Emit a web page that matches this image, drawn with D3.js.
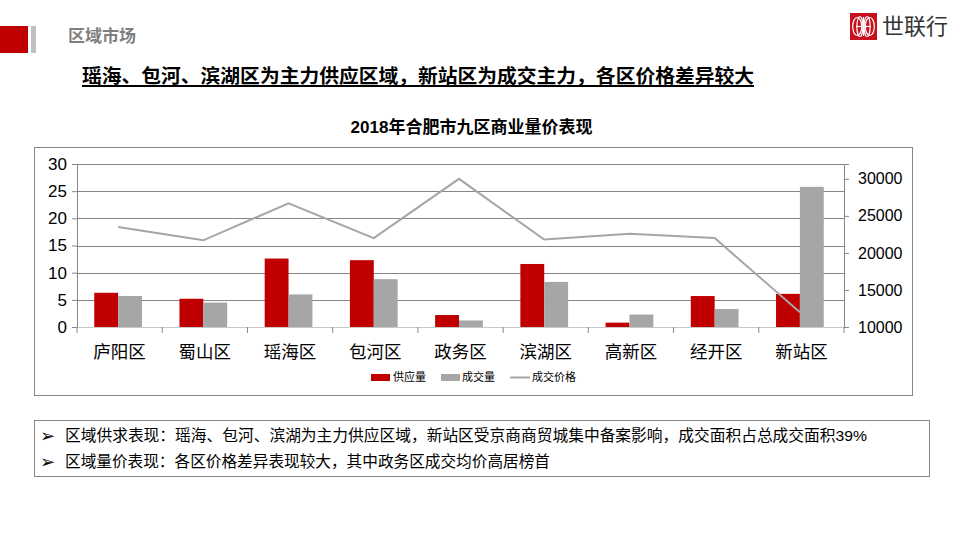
<!DOCTYPE html>
<html><head><meta charset="utf-8">
<script src="https://cdn.jsdelivr.net/npm/d3@7/dist/d3.min.js"></script>
<style>body{margin:0;background:#fff;}svg{display:block;}</style>
</head><body>
<svg id="c" width="960" height="540"></svg>
<script>
const categories = ["庐阳区","蜀山区","瑶海区","包河区","政务区","滨湖区","高新区","经开区","新站区"];
const supply = [6.3, 5.2, 12.6, 12.3, 2.2, 11.6, 0.8, 5.7, 6.1];
const deal = [5.7, 4.5, 6.0, 8.8, 1.2, 8.3, 2.3, 3.3, 25.8];
const price = [23500, 21700, 26700, 22000, 30000, 21800, 22600, 22000, 12000];
const leftTicks = [0, 5, 10, 15, 20, 25, 30];
const rightTicks = [10000, 15000, 20000, 25000, 30000];
const seriesNames = ["供应量", "成交量", "成交价格"];

const FONT = "'Liberation Sans', Arial, 'Noto Sans CJK SC', sans-serif";
const svg = d3.select("#c").style("font-family", FONT);

// header
svg.append("rect").attr("x",0).attr("y",26).attr("width",28).attr("height",27).attr("fill","#c00000");
svg.append("rect").attr("x",31).attr("y",26).attr("width",5).attr("height",27).attr("fill","#c0c0c0");
svg.append("text").attr("x",68).attr("y",42).attr("font-size",17).attr("font-weight","bold")
  .attr("fill","#7f7f7f").text("区域市场");

// logo
const logo = svg.append("g");
logo.append("rect").attr("x",850).attr("y",13).attr("width",27).attr("height",27).attr("fill","#c8101e");
[[-7,9],[-4,10],[4,10],[7,9]].forEach(([dx,h])=>{
  logo.append("ellipse").attr("cx",863.5+dx*0.9).attr("cy",26.5).attr("rx",Math.abs(dx)*0.5+1).attr("ry",h)
    .attr("fill","none").attr("stroke","#fff").attr("stroke-width",1.2);
});
logo.append("line").attr("x1",856).attr("x2",871).attr("y1",26.5).attr("y2",26.5).attr("stroke","#fff").attr("stroke-width",1.2);
logo.append("line").attr("x1",863.5).attr("x2",863.5).attr("y1",17).attr("y2",36).attr("stroke","#fff").attr("stroke-width",1.2);
svg.append("text").attr("x",882).attr("y",34).attr("font-size",22).attr("fill","#333")
  .attr("textLength",66).text("世联行");

// headline
svg.append("text").attr("x",82).attr("y",83).attr("font-size",19).attr("font-weight","bold")
  .attr("fill","#000").attr("textLength",672).attr("lengthAdjust","spacingAndGlyphs")
  .text("瑶海、包河、滨湖区为主力供应区域，新站区为成交主力，各区价格差异较大");
svg.append("rect").attr("x",82).attr("y",85).attr("width",672).attr("height",2).attr("fill","#000");

// chart frame
svg.append("rect").attr("x",34.5).attr("y",147.5).attr("width",878).attr("height",248)
  .attr("fill","none").attr("stroke","#868686").attr("stroke-width",1);

svg.append("text").attr("x",471.5).attr("y",133).attr("text-anchor","middle").attr("font-size",17)
  .attr("font-weight","bold").text("2018年合肥市九区商业量价表现");

const L = 77, R = 844, T = 164, B = 327;
const x = d3.scaleBand().domain(categories).range([L, R]).paddingInner(0.44).paddingOuter(0.22);
const yL = d3.scaleLinear().domain([0, 30]).range([B, T]);
const yR = d3.scaleLinear().domain([10000, 32000]).range([B, T]);
const sub = d3.scaleBand().domain(["s","d"]).range([0, x.bandwidth()]);

// grid
svg.append("g").selectAll("line").data(leftTicks.filter(d=>d>0)).join("line")
  .attr("x1",L).attr("x2",R).attr("y1",d=>Math.round(yL(d))+0.5).attr("y2",d=>Math.round(yL(d))+0.5)
  .attr("stroke","#868686").attr("stroke-width",1);

// bars
const g = svg.append("g");
g.selectAll(".s").data(categories).join("rect")
  .attr("x",d=>x(d)-1.5).attr("width",sub.bandwidth())
  .attr("y",(d,i)=>yL(supply[i])).attr("height",(d,i)=>B-yL(supply[i])).attr("fill","#c00000");
g.selectAll(".d").data(categories).join("rect")
  .attr("x",d=>x(d)+sub("d")-1.5).attr("width",sub.bandwidth())
  .attr("y",(d,i)=>yL(deal[i])).attr("height",(d,i)=>B-yL(deal[i])).attr("fill","#a6a6a6");

// axes
const axL = svg.append("g").attr("transform",`translate(${L},0)`)
  .call(d3.axisLeft(yL).tickValues(leftTicks).tickSize(5).tickPadding(5));
axL.select(".domain").attr("stroke","#868686");
axL.selectAll(".tick line").attr("stroke","#868686");
axL.selectAll("text").attr("font-size",17).attr("font-family",FONT).attr("fill","#000");

const axR = svg.append("g").attr("transform",`translate(${R},0)`)
  .call(d3.axisRight(yR).tickValues(rightTicks).tickSize(5).tickPadding(9).tickFormat(d3.format("d")));
axR.select(".domain").attr("stroke","#868686");
axR.selectAll(".tick line").attr("stroke","#868686");
axR.selectAll("text").attr("font-size",16).attr("font-family",FONT).attr("fill","#000");

const axB = svg.append("g").attr("transform",`translate(0,${B})`)
  .call(d3.axisBottom(x).tickSize(0).tickPadding(19));
axB.select(".domain").attr("stroke","#c8c8c8");
axB.selectAll("text").attr("font-size",17.5).attr("font-family",FONT).attr("fill","#000");
const step = (R - L) / categories.length;
svg.append("g").selectAll("line").data(d3.range(categories.length + 1)).join("line")
  .attr("x1",i=>L+i*step).attr("x2",i=>L+i*step).attr("y1",B).attr("y2",B+6)
  .attr("stroke","#868686");

// line
const line = d3.line().x((d,i)=>x(categories[i])+x.bandwidth()/2-1.5).y(d=>yR(d));
svg.append("path").datum(price).attr("d",line).attr("fill","none")
  .attr("stroke","#a6a6a6").attr("stroke-width",2);

// legend
const lg = svg.append("g").attr("font-size",11);
lg.append("rect").attr("x",371).attr("y",374).attr("width",19).attr("height",7).attr("fill","#c00000");
lg.append("text").attr("x",393).attr("y",381).text(seriesNames[0]);
lg.append("rect").attr("x",441).attr("y",374).attr("width",19).attr("height",7).attr("fill","#a6a6a6");
lg.append("text").attr("x",462).attr("y",381).text(seriesNames[1]);
lg.append("line").attr("x1",510).attr("x2",530).attr("y1",377.5).attr("y2",377.5).attr("stroke","#a6a6a6").attr("stroke-width",2);
lg.append("text").attr("x",532).attr("y",381).text(seriesNames[2]);

// text box
svg.append("rect").attr("x",34.5).attr("y",420.5).attr("width",895).attr("height",56)
  .attr("fill","none").attr("stroke","#868686");
const notes = [
  {t:"区域供求表现：瑶海、包河、滨湖为主力供应区域，新站区受京商商贸城集中备案影响，成交面积占总成交面积39%", w:802, y:441},
  {t:"区域量价表现：各区价格差异表现较大，其中政务区成交均价高居榜首", w:485, y:467}
];
notes.forEach(n=>{
  svg.append("text").attr("x",40).attr("y",n.y+1).attr("font-size",18).attr("font-family","'DejaVu Sans', sans-serif").text("➢");
  svg.append("text").attr("x",65).attr("y",n.y).attr("font-size",15.5).attr("textLength",n.w)
    .attr("lengthAdjust","spacingAndGlyphs").text(n.t);
});
</script>
</body></html>
